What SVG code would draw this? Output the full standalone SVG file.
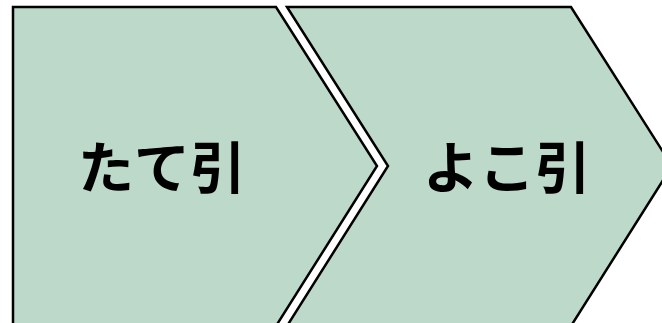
<svg xmlns="http://www.w3.org/2000/svg" width="662" height="323" viewBox="0 0 662 323">
<style>
.chev{fill:#BDD9CA;stroke:#000;stroke-width:2.5;stroke-linejoin:miter}
.lbl{font-family:"Noto Sans CJK JP","Noto Sans CJK SC",sans-serif;font-weight:bold;font-size:56px;fill:#000;text-anchor:middle}
</style>
<rect width="662" height="323" fill="#fff"/>
<g id="node-tate">
<polygon class="chev" points="13,7 276,7 377,166 276,326 13,326"/>
<text class="lbl" x="162" y="188">たて引</text>
</g>
<g id="node-yoko">
<polygon class="chev" points="287,7 571,7 672,166 571,326 287,326 388,166"/>
<text class="lbl" x="507" y="188">よこ引</text>
</g>
<g id="connectors"></g>
</svg>
